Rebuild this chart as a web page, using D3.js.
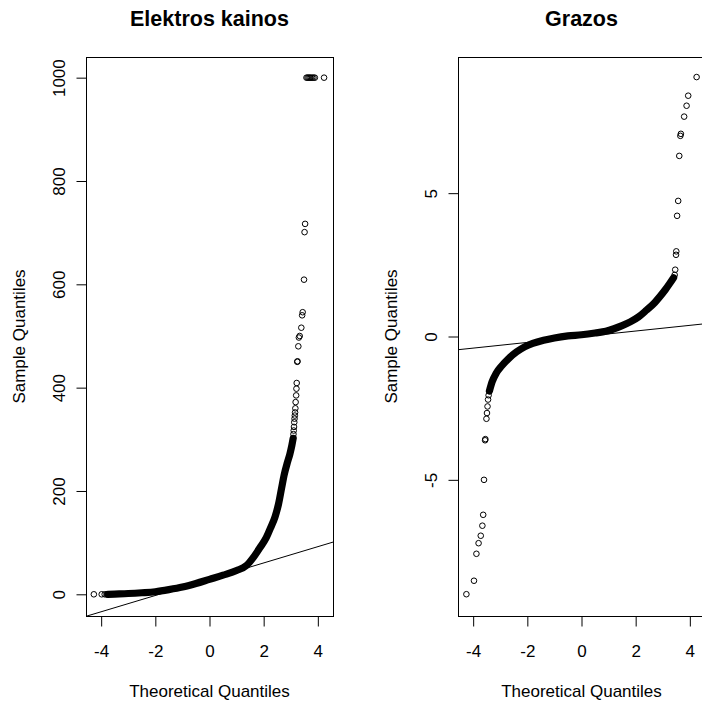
<!DOCTYPE html>
<html>
<head>
<meta charset="utf-8">
<script src="https://cdn.jsdelivr.net/npm/d3@7"></script>
<style>body{margin:0;background:#fff}</style>
</head>
<body>
<div id="chart"></div>
<script>
var width = 702;
var height = 702;
var font = "'Liberation Sans', Arial, sans-serif";

var qTicks = [-4, -2, 0, 2, 4];
var elekTicks = [0, 200, 400, 600, 800, 1000];
var grazTicks = [-5, 0, 5];
var titles = ["Elektros kainos", "Grazos"];

// dense stretch where the circles overlap into a solid band [theoretical, sample]
var elekBand = [[-3.75,0],[-3.5,0.5],[-3.0,1.5],[-2.5,3],[-2.0,5],[-1.5,9],[-1.0,14],[-0.5,21],
  [0,29],[0.5,37],[1.0,46],[1.37,56],[1.6,70],[1.86,90],[2.1,110],[2.25,128],[2.42,150],
  [2.55,175],[2.66,205],[2.76,232],[2.87,254],[2.97,272],[3.04,288],[3.09,302]];
// points that stand apart
var elekPoints = [[-4.27,0],[-3.98,0],[-3.87,0],[-3.80,0],
  [3.10,310],[3.11,317],[3.12,324],[3.13,333],[3.14,340],[3.15,346],[3.16,352],[3.17,360],
  [3.18,372],[3.20,385],[3.21,398],[3.22,409],[3.24,450],[3.25,451],[3.28,480],[3.30,497],
  [3.33,500],[3.39,516],[3.42,540],[3.44,546],[3.49,609],[3.51,701],[3.53,717],
  [3.58,1000],[3.62,1000],[3.66,1000],[3.70,1000],[3.74,1000],[3.79,1000],[3.84,1000],
  [3.89,1000],[4.23,1000]];
var elekLine = [29.2, 15.75]; // intercept, slope

var grazBand = [[-3.40,-1.90],[-3.30,-1.58],[-3.15,-1.28],[-2.95,-1.03],[-2.7,-0.78],[-2.4,-0.54],
  [-2.1,-0.36],[-1.8,-0.24],[-1.4,-0.13],[-1.0,-0.05],[-0.5,0.02],[0,0.06],[0.5,0.12],[0.9,0.18],
  [1.2,0.27],[1.5,0.38],[1.8,0.51],[2.1,0.68],[2.4,0.92],[2.7,1.18],[2.9,1.40],[3.1,1.64],
  [3.25,1.84],[3.40,2.05]];
var grazPoints = [[-4.25,-8.99],[-3.97,-8.52],[-3.88,-7.58],[-3.80,-7.21],[-3.72,-6.95],
  [-3.66,-6.60],[-3.63,-6.22],[-3.60,-5.00],[-3.56,-3.62],[-3.55,-3.58],[-3.51,-2.87],
  [-3.49,-2.67],[-3.47,-2.44],[-3.45,-2.20],[-3.43,-2.05],
  [3.44,2.15],[3.46,2.33],[3.49,2.85],[3.50,2.97],[3.53,4.21],[3.57,4.73],[3.61,6.30],
  [3.65,7.00],[3.67,7.07],[3.79,7.67],[3.88,8.05],[3.94,8.40],[4.25,9.05]];
var grazLine = [-0.008, 0.0993];

var svg = d3.select('#chart').append('svg')
    .attr('width', width)
    .attr('height', height);

var plotTop = 57, plotBottom = 616, boxW = 247;

function panel(id, left, title, yDomain, yTicks, band, points, qq) {
  var x = d3.scaleLinear().domain([-4.56, 4.56]).range([left, left + boxW]);
  var y = d3.scaleLinear().domain(yDomain).range([plotBottom, plotTop]);
  var g = svg.append('g');

  g.append('clipPath').attr('id', id)
    .append('rect')
      .attr('x', left).attr('y', plotTop)
      .attr('width', boxW).attr('height', plotBottom - plotTop);

  var plot = g.append('g').attr('clip-path', 'url(#' + id + ')');

  plot.append('line')
      .attr('x1', x(-5)).attr('y1', y(qq[0] + qq[1] * -5))
      .attr('x2', x(5)).attr('y2', y(qq[0] + qq[1] * 5))
      .attr('stroke', '#000')
      .attr('stroke-width', 1);

  var line = d3.line()
      .x(function (d) { return x(d[0]); })
      .y(function (d) { return y(d[1]); })
      .curve(d3.curveMonotoneX);

  plot.append('path')
      .attr('d', line(band))
      .attr('fill', 'none')
      .attr('stroke', '#000')
      .attr('stroke-width', 7.2)
      .attr('stroke-linecap', 'round')
      .attr('stroke-linejoin', 'round');

  plot.selectAll('circle.pt').data(points).enter().append('circle')
      .attr('class', 'pt')
      .attr('cx', function (d) { return x(d[0]); })
      .attr('cy', function (d) { return y(d[1]); })
      .attr('r', 2.8)
      .attr('fill', 'none')
      .attr('stroke', '#000')
      .attr('stroke-width', 1);

  g.append('rect')
      .attr('x', left + 0.5).attr('y', plotTop + 0.5)
      .attr('width', boxW).attr('height', plotBottom - plotTop)
      .attr('fill', 'none')
      .attr('stroke', '#000');

  var xa = g.append('g')
      .attr('transform', 'translate(0,' + (plotBottom + 0.5) + ')')
      .call(d3.axisBottom(x).tickValues(qTicks).tickFormat(String).tickSize(10).tickSizeOuter(0));
  var ya = g.append('g')
      .attr('transform', 'translate(' + (left + 0.5) + ',0)')
      .call(d3.axisLeft(y).tickValues(yTicks).tickFormat(String).tickSize(10).tickSizeOuter(0));

  [xa, ya].forEach(function (a) {
    a.select('.domain').remove();
    a.attr('font-size', 17).attr('font-family', font);
    a.selectAll('text').attr('fill', '#000');
  });
  xa.selectAll('text').attr('y', 40.5).attr('dy', null);
  ya.selectAll('text')
      .attr('x', null).attr('dy', null)
      .attr('text-anchor', 'middle')
      .attr('transform', 'translate(-22,0) rotate(-90)');

  g.append('text')
      .attr('x', x(0)).attr('y', 25.5)
      .attr('text-anchor', 'middle')
      .style('font-family', font)
      .style('font-size', '21.5px')
      .style('font-weight', 'bold')
      .text(title);

  g.append('text')
      .attr('x', x(0)).attr('y', 697)
      .attr('text-anchor', 'middle')
      .style('font-family', font)
      .style('font-size', '17px')
      .text('Theoretical Quantiles');

  g.append('text')
      .attr('transform', 'translate(' + (left - 61) + ',' + ((plotTop + plotBottom) / 2) + ') rotate(-90)')
      .attr('text-anchor', 'middle')
      .style('font-family', font)
      .style('font-size', '17px')
      .text('Sample Quantiles');
}

panel('clipL', 86, titles[0], [-42, 1040], elekTicks, elekBand, elekPoints, elekLine);
panel('clipR', 458, titles[1], [-9.75, 9.75], grazTicks, grazBand, grazPoints, grazLine);
</script>
</body>
</html>
